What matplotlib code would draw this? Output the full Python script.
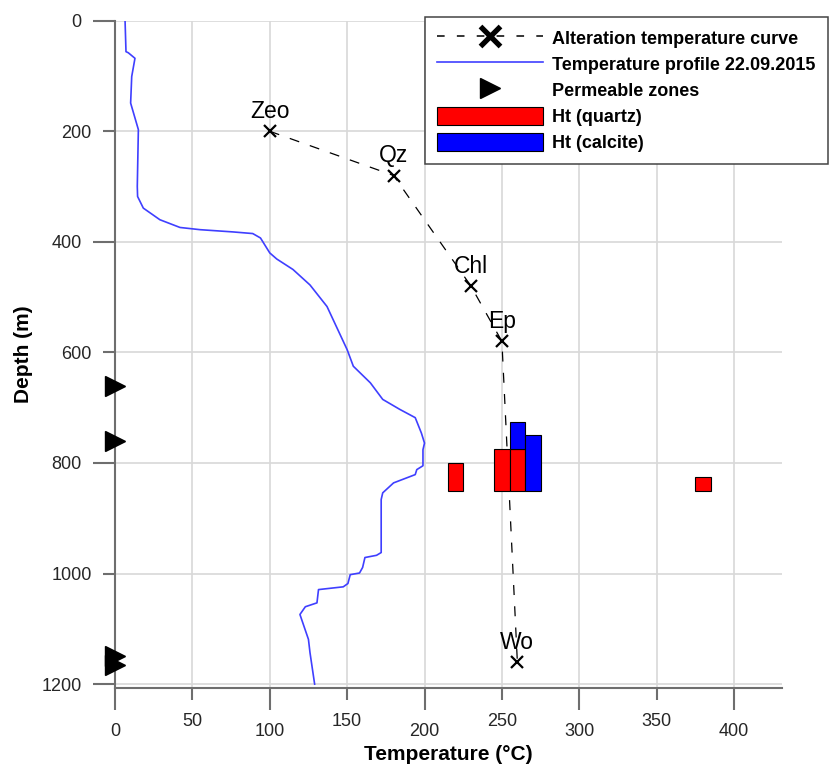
import matplotlib
matplotlib.use("Agg")
import matplotlib.pyplot as plt
import numpy as np
from matplotlib.lines import Line2D
from matplotlib.patches import Patch
from matplotlib.ticker import FixedLocator

plt.rcParams['font.family'] = ['Liberation Sans', 'DejaVu Sans']

# Temperature log of the well (22.09.2015)
profile_temp = [6.5, 7.1, 8.6, 12.9, 10.8, 10.1, 15.1, 14.4, 14.6, 18.3, 29, 42, 55, 76,
                89, 94, 100, 104.5, 115, 126, 137, 150, 154, 165, 173, 184, 194, 198,
                200, 199, 199, 195, 194, 180, 173, 172, 172, 169, 161.5, 160, 158, 152,
                150.5, 147.5, 131.5, 130.5, 123, 119.5, 125, 126, 129]
profile_depth = [0, 56, 58, 68, 101, 149, 197, 300, 318, 339, 360, 374, 378, 382,
                 385, 393, 420, 431, 450, 478, 517, 595, 625, 655, 685, 703, 718, 746,
                 764, 776, 805, 812, 821, 836, 854, 866, 962, 967, 971, 989, 999, 1002,
                 1018, 1024, 1029, 1053, 1060, 1074, 1119, 1143, 1200]

# Alteration minerals and their formation temperatures
mineral_names = ['Zeo', 'Qz', 'Chl', 'Ep', 'Wo']
mineral_temp = [100, 180, 230, 250, 260]
mineral_depth = [200, 280, 480, 580, 1160]

# Permeable (feed) zones
perm_depth = [660, 760, 1150, 1165]

# Homogenisation temperatures of fluid inclusions (10 degC bins)
quartz_temp = [220, 250, 260, 380]
quartz_count = [2, 3, 3, 1]
calcite_temp = [260, 270]
calcite_count = [2, 4]

# histogram drawn inside the depth axis: base depth and metres per count
hist_base = 850
per_count = 25
bin_width = 10

fig = plt.figure(figsize=(8.3, 7.65), dpi=100)
ax = fig.add_axes([115/830, 1 - 688/765, 667/830, 667.3/765])

ax.set_xlim(0, 431)
ax.set_ylim(1207, 0)

axis_grey = '#6e6e6e'
for side in ['top', 'right']:
    ax.spines[side].set_visible(False)
for side in ['left', 'bottom']:
    ax.spines[side].set_color(axis_grey)
    ax.spines[side].set_linewidth(1.5)

ax.xaxis.set_major_locator(FixedLocator([0, 100, 200, 300, 400]))
ax.xaxis.set_minor_locator(FixedLocator([50, 150, 250, 350]))
ax.yaxis.set_major_locator(FixedLocator([0, 400, 800, 1200]))
ax.yaxis.set_minor_locator(FixedLocator([200, 600, 1000]))
ax.xaxis.set_minor_formatter(lambda v, p: f'{v:.0f}')
ax.yaxis.set_minor_formatter(lambda v, p: f'{v:.0f}')

ax.tick_params(which='both', color=axis_grey, width=1.5, labelsize=13,
               labelcolor='#262626')
ax.tick_params(which='major', length=15.5)
ax.tick_params(which='minor', length=8.3)
ax.tick_params(axis='x', which='both', pad=10)
ax.tick_params(axis='y', which='both', pad=8.5)

ax.grid(which='both', color='#d8d8d8', lw=1.2, zorder=0)
ax.set_axisbelow(True)

ax.set_xlabel('Temperature (°C)', fontsize=15, fontweight='bold')
ax.set_ylabel('Depth (m)', fontsize=15, fontweight='bold')
ax.xaxis.set_label_coords(0.5, -0.0854)
ax.yaxis.set_label_coords(-0.123, 0.5)

# measured temperature profile
ax.plot(profile_temp, profile_depth, color='#3f3fff', lw=1.2, zorder=3)

# alteration temperature curve
ax.plot(mineral_temp, mineral_depth, color='black', lw=0.9, dashes=(8, 9),
        marker='x', markersize=8, markeredgewidth=1.6, zorder=4)
for name, t, d in zip(mineral_names, mineral_temp, mineral_depth):
    ax.annotate(name, (t, d), xytext=(0, 6), textcoords='offset points',
                ha='center', va='bottom', fontsize=16.5, zorder=5)

# fluid inclusion histogram, calcite stacked on quartz
ax.bar(quartz_temp, [-c * per_count for c in quartz_count], bottom=hist_base,
       width=bin_width, color='#ff0000', edgecolor='black', lw=0.8, zorder=4)
quartz_top = dict(zip(quartz_temp, quartz_count))
calcite_bottom = [hist_base - quartz_top.get(t, 0) * per_count for t in calcite_temp]
ax.bar(calcite_temp, [-c * per_count for c in calcite_count], bottom=calcite_bottom,
       width=bin_width, color='#0000ff', edgecolor='black', lw=0.8, zorder=4)

# permeable zones on the depth axis
ax.plot(np.zeros(len(perm_depth)), perm_depth, ls='none', marker='>', markersize=14,
        color='black', clip_on=False, zorder=6)

handles = [
    Line2D([], [], color='black', lw=1.1, dashes=(5, 8), marker='x',
           markersize=14, markeredgewidth=3.8),
    Line2D([], [], color='#3f3fff', lw=1.2),
    Line2D([], [], ls='none', marker='>', markersize=14, color='black'),
    Patch(facecolor='#ff0000', edgecolor='black', lw=0.8),
    Patch(facecolor='#0000ff', edgecolor='black', lw=0.8),
]
labels = ['Alteration temperature curve', 'Temperature profile 22.09.2015',
          'Permeable zones', 'Ht (quartz)', 'Ht (calcite)']
leg = fig.legend(handles, labels, loc='upper left',
                 bbox_to_anchor=(425/830, 1 - 17/765), bbox_transform=fig.transFigure,
                 borderaxespad=0, fancybox=False, framealpha=1,
                 prop={'size': 13, 'weight': 'bold'},
                 handlelength=5.9, handleheight=1.15, handletextpad=0.5,
                 labelspacing=0.38, borderpad=0.66)
leg.get_frame().set_edgecolor('#444444')
leg.get_frame().set_linewidth(1.1)

fig.savefig('out.png', dpi=100)
